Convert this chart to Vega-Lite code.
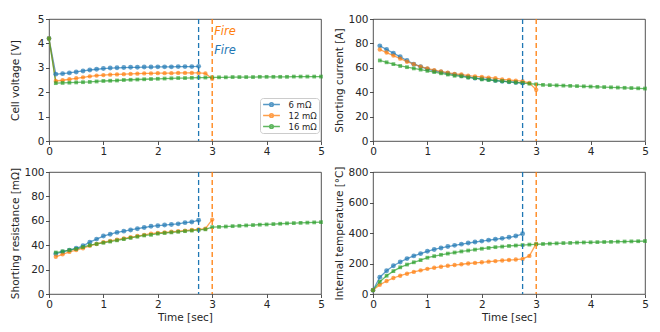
{
  "$schema": "https://vega.github.io/schema/vega-lite/v6.json",
  "background": "white",
  "padding": {"left": 9, "top": 13, "right": 5, "bottom": 5},
  "bounds": "flush",
  "columns": 2,
  "spacing": {"row": 31, "column": 52},
  "resolve": {"legend": {"color": "independent"}},
  "config": {
    "font": "DejaVu Sans",
    "view": {"stroke": "#262626", "strokeWidth": 0.8},
    "axis": {"grid": false, "domain": false, "labelOverlap": false, "labelFlush": false, "labelBound": false, "tickColor": "#262626", "tickSize": 3.5, "tickWidth": 0.8, "labelFontSize": 10.5, "labelColor": "#262626", "labelPadding": 1.5, "titleFontSize": 10.5, "titleFontWeight": "normal", "titleColor": "#262626"},
    "axisY": {"labelOverlap": false},
    "axisQuantitative": {"labelOverlap": false}
  },
  "datasets": {
    "fire": [{"t": 2.75, "s": "6 mΩ"}, {"t": 3, "s": "12 mΩ"}],
    "main": [
      {"t":0,"s":"6 mΩ","V":4.2,"I":null,"R":null,"T":25},
      {"t":0.125,"s":"6 mΩ","V":2.74,"I":78,"R":33,"T":110},
      {"t":0.25,"s":"6 mΩ","V":2.76,"I":75,"R":34.5,"T":152},
      {"t":0.375,"s":"6 mΩ","V":2.79,"I":72,"R":36,"T":185},
      {"t":0.5,"s":"6 mΩ","V":2.83,"I":69,"R":37.5,"T":210},
      {"t":0.625,"s":"6 mΩ","V":2.87,"I":66,"R":39.5,"T":232},
      {"t":0.75,"s":"6 mΩ","V":2.91,"I":63,"R":42.5,"T":250},
      {"t":0.875,"s":"6 mΩ","V":2.94,"I":61,"R":45,"T":265},
      {"t":1,"s":"6 mΩ","V":2.97,"I":59,"R":47.5,"T":280},
      {"t":1.125,"s":"6 mΩ","V":2.99,"I":57.5,"R":49,"T":292},
      {"t":1.25,"s":"6 mΩ","V":3.0,"I":56.5,"R":50.5,"T":302},
      {"t":1.375,"s":"6 mΩ","V":3.01,"I":55.5,"R":51.5,"T":311},
      {"t":1.5,"s":"6 mΩ","V":3.02,"I":54.5,"R":52.5,"T":319},
      {"t":1.625,"s":"6 mΩ","V":3.02,"I":53.5,"R":53.5,"T":327},
      {"t":1.75,"s":"6 mΩ","V":3.03,"I":52.5,"R":54.5,"T":334},
      {"t":1.875,"s":"6 mΩ","V":3.03,"I":51.5,"R":55.5,"T":341},
      {"t":2,"s":"6 mΩ","V":3.04,"I":51,"R":56,"T":347},
      {"t":2.125,"s":"6 mΩ","V":3.04,"I":50.5,"R":56.5,"T":353},
      {"t":2.25,"s":"6 mΩ","V":3.04,"I":49.5,"R":57,"T":359},
      {"t":2.375,"s":"6 mΩ","V":3.05,"I":49,"R":57.5,"T":365},
      {"t":2.5,"s":"6 mΩ","V":3.05,"I":48.5,"R":58.5,"T":372},
      {"t":2.625,"s":"6 mΩ","V":3.05,"I":48,"R":59,"T":380},
      {"t":2.75,"s":"6 mΩ","V":3.06,"I":47.5,"R":60.5,"T":395},
      {"t":0,"s":"12 mΩ","V":4.2,"I":null,"R":null,"T":25},
      {"t":0.125,"s":"12 mΩ","V":2.46,"I":75,"R":30.5,"T":60},
      {"t":0.25,"s":"12 mΩ","V":2.49,"I":72.5,"R":32.5,"T":85},
      {"t":0.375,"s":"12 mΩ","V":2.53,"I":70,"R":34.5,"T":105},
      {"t":0.5,"s":"12 mΩ","V":2.57,"I":67.5,"R":36,"T":120},
      {"t":0.625,"s":"12 mΩ","V":2.61,"I":65,"R":37.5,"T":133},
      {"t":0.75,"s":"12 mΩ","V":2.65,"I":63,"R":39.5,"T":145},
      {"t":0.875,"s":"12 mΩ","V":2.68,"I":61,"R":41,"T":155},
      {"t":1,"s":"12 mΩ","V":2.7,"I":59.5,"R":42.5,"T":165},
      {"t":1.125,"s":"12 mΩ","V":2.72,"I":58,"R":43.5,"T":172},
      {"t":1.25,"s":"12 mΩ","V":2.73,"I":57,"R":44.5,"T":179},
      {"t":1.375,"s":"12 mΩ","V":2.74,"I":56,"R":45.5,"T":185},
      {"t":1.5,"s":"12 mΩ","V":2.75,"I":55,"R":46.5,"T":190},
      {"t":1.625,"s":"12 mΩ","V":2.76,"I":54.5,"R":47.5,"T":195},
      {"t":1.75,"s":"12 mΩ","V":2.77,"I":53.5,"R":48.5,"T":200},
      {"t":1.875,"s":"12 mΩ","V":2.77,"I":53,"R":49.5,"T":204},
      {"t":2,"s":"12 mΩ","V":2.78,"I":52.5,"R":50,"T":208},
      {"t":2.125,"s":"12 mΩ","V":2.78,"I":52,"R":50.5,"T":212},
      {"t":2.25,"s":"12 mΩ","V":2.78,"I":51.5,"R":51,"T":216},
      {"t":2.375,"s":"12 mΩ","V":2.79,"I":50.5,"R":51.5,"T":220},
      {"t":2.5,"s":"12 mΩ","V":2.79,"I":50,"R":52,"T":223},
      {"t":2.625,"s":"12 mΩ","V":2.79,"I":49.5,"R":52.5,"T":226},
      {"t":2.75,"s":"12 mΩ","V":2.79,"I":49,"R":53,"T":230},
      {"t":2.875,"s":"12 mΩ","V":2.77,"I":47.5,"R":53.5,"T":250},
      {"t":3,"s":"12 mΩ","V":2.55,"I":42,"R":61,"T":330},
      {"t":0,"s":"16 mΩ","V":4.2,"I":null,"R":null,"T":25},
      {"t":0.125,"s":"16 mΩ","V":2.37,"I":66,"R":34,"T":80},
      {"t":0.25,"s":"16 mΩ","V":2.38,"I":64.5,"R":35,"T":120},
      {"t":0.375,"s":"16 mΩ","V":2.39,"I":63,"R":36,"T":150},
      {"t":0.5,"s":"16 mΩ","V":2.4,"I":61.5,"R":37,"T":175},
      {"t":0.625,"s":"16 mΩ","V":2.41,"I":60.5,"R":38.5,"T":193},
      {"t":0.75,"s":"16 mΩ","V":2.42,"I":59.5,"R":40,"T":208},
      {"t":0.875,"s":"16 mΩ","V":2.44,"I":58.5,"R":41,"T":222},
      {"t":1,"s":"16 mΩ","V":2.46,"I":57.5,"R":42,"T":238},
      {"t":1.125,"s":"16 mΩ","V":2.47,"I":56.5,"R":43,"T":248},
      {"t":1.25,"s":"16 mΩ","V":2.48,"I":55.5,"R":44,"T":257},
      {"t":1.375,"s":"16 mΩ","V":2.5,"I":54.5,"R":45,"T":265},
      {"t":1.5,"s":"16 mΩ","V":2.51,"I":53.5,"R":46,"T":272},
      {"t":1.625,"s":"16 mΩ","V":2.52,"I":53,"R":47,"T":279},
      {"t":1.75,"s":"16 mΩ","V":2.53,"I":52,"R":48,"T":285},
      {"t":1.875,"s":"16 mΩ","V":2.54,"I":51.5,"R":48.5,"T":291},
      {"t":2,"s":"16 mΩ","V":2.55,"I":50.5,"R":49.5,"T":297},
      {"t":2.125,"s":"16 mΩ","V":2.56,"I":50,"R":50,"T":302},
      {"t":2.25,"s":"16 mΩ","V":2.57,"I":49.5,"R":50.5,"T":307},
      {"t":2.375,"s":"16 mΩ","V":2.58,"I":49,"R":51,"T":311},
      {"t":2.5,"s":"16 mΩ","V":2.58,"I":48.5,"R":51.5,"T":315},
      {"t":2.625,"s":"16 mΩ","V":2.59,"I":48,"R":52,"T":318},
      {"t":2.75,"s":"16 mΩ","V":2.6,"I":47.5,"R":52.5,"T":321},
      {"t":2.875,"s":"16 mΩ","V":2.6,"I":47,"R":53,"T":324},
      {"t":3,"s":"16 mΩ","V":2.61,"I":46.5,"R":54.8,"T":326},
      {"t":3.125,"s":"16 mΩ","V":2.61,"I":46,"R":55,"T":328},
      {"t":3.25,"s":"16 mΩ","V":2.61,"I":45.8,"R":55.3,"T":330},
      {"t":3.375,"s":"16 mΩ","V":2.62,"I":45.6,"R":55.6,"T":332},
      {"t":3.5,"s":"16 mΩ","V":2.62,"I":45.4,"R":55.9,"T":334},
      {"t":3.625,"s":"16 mΩ","V":2.62,"I":45.2,"R":56.2,"T":335},
      {"t":3.75,"s":"16 mΩ","V":2.62,"I":45,"R":56.5,"T":337},
      {"t":3.875,"s":"16 mΩ","V":2.63,"I":44.8,"R":56.8,"T":338},
      {"t":4,"s":"16 mΩ","V":2.63,"I":44.6,"R":57,"T":339},
      {"t":4.125,"s":"16 mΩ","V":2.63,"I":44.4,"R":57.3,"T":340},
      {"t":4.25,"s":"16 mΩ","V":2.63,"I":44.2,"R":57.6,"T":341},
      {"t":4.375,"s":"16 mΩ","V":2.63,"I":44,"R":57.9,"T":342},
      {"t":4.5,"s":"16 mΩ","V":2.64,"I":43.8,"R":58.1,"T":343},
      {"t":4.625,"s":"16 mΩ","V":2.64,"I":43.6,"R":58.3,"T":344},
      {"t":4.75,"s":"16 mΩ","V":2.64,"I":43.4,"R":58.5,"T":345},
      {"t":4.875,"s":"16 mΩ","V":2.64,"I":43.2,"R":58.7,"T":346},
      {"t":5,"s":"16 mΩ","V":2.64,"I":43,"R":58.9,"T":347}
    ]
  },
  "data": {"name": "main"},
  "concat": [
    {
      "width": 272, "height": 122,
      "resolve": {"legend": {"color": "independent"}},
      "layer": [
        {"mark": {"type": "line", "strokeWidth": 1.3, "opacity": 0.7},
         "encoding": {
           "x": {"field": "t", "type": "quantitative", "scale": {"domain": [0, 5], "nice": false}, "axis": {"values": [0,1,2,3,4,5], "title": null, "labelOverlap": false, "labelFlush": false}},
           "y": {"field": "V", "type": "quantitative", "scale": {"domain": [0, 5], "nice": false}, "axis": {"values": [0,1,2,3,4,5], "labelOverlap": false, "labelBound": false, "title": "Cell voltage [V]", "titleX": -34, "titleBaseline": "middle", "titleAngle": 270}},
           "color": {"field": "s", "type": "nominal", "scale": {"domain": ["6 mΩ","12 mΩ","16 mΩ"], "range": ["#1f77b4","#ff7f0e","#2ca02c"]},
             "legend": {"orient": "none", "legendX": 211, "legendY": 79, "title": null, "fillColor": "white", "strokeColor": "#cccccc", "cornerRadius": 3, "padding": 1.5, "labelFontSize": 8.5, "labelColor": "#262626", "symbolSize": 64, "rowPadding": 1, "symbolOffset": 5, "labelOffset": 12,
               "symbolType": "M-2.1,0L2.1,0M-0.45,0A0.45,0.45 0 1,0 0.45,0A0.45,0.45 0 1,0 -0.45,0Z",
               "symbolStrokeWidth": 1.6, "symbolOpacity": 0.75}}}},
        {"mark": {"type": "point", "filled": true, "opacity": 0.7},
         "encoding": {
           "x": {"field": "t", "type": "quantitative", "axis": {"values": [0,1,2,3,4,5], "title": null, "labelOverlap": false, "labelFlush": false}},
           "y": {"field": "V", "type": "quantitative", "axis": {"values": [0,1,2,3,4,5], "labelOverlap": false, "labelBound": false, "title": "Cell voltage [V]", "titleX": -34, "titleBaseline": "middle", "titleAngle": 270}},
           "shape": {"field": "s", "type": "nominal", "scale": {"domain": ["6 mΩ","12 mΩ","16 mΩ"], "range": ["circle","circle","square"]}, "legend": null},
           "size": {"field": "s", "type": "nominal", "scale": {"domain": ["6 mΩ","12 mΩ","16 mΩ"], "range": [24, 14, 24]}, "legend": null},
           "color": {"field": "s", "type": "nominal", "legend": null}}},
        {"data": {"name": "fire"}, "mark": {"type": "rule", "strokeDash": [5, 3], "strokeWidth": 1.3},
         "encoding": {"x": {"field": "t", "type": "quantitative", "axis": {"values": [0,1,2,3,4,5], "title": null, "labelOverlap": false, "labelFlush": false}}, "color": {"field": "s", "type": "nominal", "legend": null}}},
        {"data": {"values": [{}]}, "mark": {"type": "text", "text": "Fire", "align": "left", "baseline": "middle", "dx": 2, "fontStyle": "italic", "fontSize": 11.5, "color": "#ff7f0e"},
         "encoding": {"x": {"datum": 3, "type": "quantitative", "axis": {"values": [0,1,2,3,4,5], "title": null, "labelOverlap": false, "labelFlush": false}}, "y": {"datum": 4.45, "type": "quantitative", "axis": {"values": [0,1,2,3,4,5], "labelOverlap": false, "labelBound": false, "title": "Cell voltage [V]", "titleX": -34, "titleBaseline": "middle", "titleAngle": 270}}}},
        {"data": {"values": [{}]}, "mark": {"type": "text", "text": "Fire", "align": "left", "baseline": "middle", "dx": 2, "fontStyle": "italic", "fontSize": 11.5, "color": "#1f77b4"},
         "encoding": {"x": {"datum": 3, "type": "quantitative", "axis": {"values": [0,1,2,3,4,5], "title": null, "labelOverlap": false, "labelFlush": false}}, "y": {"datum": 3.7, "type": "quantitative", "axis": {"values": [0,1,2,3,4,5], "labelOverlap": false, "labelBound": false, "title": "Cell voltage [V]", "titleX": -34, "titleBaseline": "middle", "titleAngle": 270}}}}
      ]
    },
    {
      "width": 272, "height": 122,
      "layer": [
        {"mark": {"type": "line", "strokeWidth": 1.3, "opacity": 0.7},
         "encoding": {
           "x": {"field": "t", "type": "quantitative", "scale": {"domain": [0, 5], "nice": false}, "axis": {"values": [0,1,2,3,4,5], "title": null, "labelOverlap": false, "labelFlush": false}},
           "y": {"field": "I", "type": "quantitative", "scale": {"domain": [0, 100], "nice": false}, "axis": {"values": [0,20,40,60,80,100], "labelOverlap": false, "labelBound": false, "title": "Shorting current [A]", "titleX": -34, "titleBaseline": "middle", "titleAngle": 270}},
           "color": {"field": "s", "type": "nominal", "legend": null}}},
        {"mark": {"type": "point", "filled": true, "opacity": 0.7},
         "encoding": {
           "x": {"field": "t", "type": "quantitative"},
           "y": {"field": "I", "type": "quantitative", "axis": {"values": [0,20,40,60,80,100], "labelOverlap": false, "labelBound": false, "title": "Shorting current [A]", "titleX": -34, "titleBaseline": "middle", "titleAngle": 270}},
           "shape": {"field": "s", "type": "nominal", "legend": null},
           "size": {"field": "s", "type": "nominal", "legend": null},
           "color": {"field": "s", "type": "nominal", "legend": null}}},
        {"data": {"name": "fire"}, "mark": {"type": "rule", "strokeDash": [5, 3], "strokeWidth": 1.3},
         "encoding": {"x": {"field": "t", "type": "quantitative"}, "color": {"field": "s", "type": "nominal", "legend": null}}}
      ]
    },
    {
      "width": 272, "height": 122,
      "layer": [
        {"mark": {"type": "line", "strokeWidth": 1.3, "opacity": 0.7},
         "encoding": {
           "x": {"field": "t", "type": "quantitative", "scale": {"domain": [0, 5], "nice": false}, "axis": {"values": [0,1,2,3,4,5], "labelOverlap": false, "labelFlush": false, "title": "Time [sec]", "titleY": 23, "titleBaseline": "middle"}},
           "y": {"field": "R", "type": "quantitative", "scale": {"domain": [0, 100], "nice": false}, "axis": {"values": [0,20,40,60,80,100], "labelOverlap": false, "labelBound": false, "title": "Shorting resistance [mΩ]", "titleX": -34, "titleBaseline": "middle", "titleAngle": 270}},
           "color": {"field": "s", "type": "nominal", "legend": null}}},
        {"mark": {"type": "point", "filled": true, "opacity": 0.7},
         "encoding": {
           "x": {"field": "t", "type": "quantitative"},
           "y": {"field": "R", "type": "quantitative", "axis": {"values": [0,20,40,60,80,100], "labelOverlap": false, "labelBound": false, "title": "Shorting resistance [mΩ]", "titleX": -34, "titleBaseline": "middle", "titleAngle": 270}},
           "shape": {"field": "s", "type": "nominal", "legend": null},
           "size": {"field": "s", "type": "nominal", "legend": null},
           "color": {"field": "s", "type": "nominal", "legend": null}}},
        {"data": {"name": "fire"}, "mark": {"type": "rule", "strokeDash": [5, 3], "strokeWidth": 1.3},
         "encoding": {"x": {"field": "t", "type": "quantitative"}, "color": {"field": "s", "type": "nominal", "legend": null}}}
      ]
    },
    {
      "width": 272, "height": 122,
      "layer": [
        {"mark": {"type": "line", "strokeWidth": 1.3, "opacity": 0.7},
         "encoding": {
           "x": {"field": "t", "type": "quantitative", "scale": {"domain": [0, 5], "nice": false}, "axis": {"values": [0,1,2,3,4,5], "labelOverlap": false, "labelFlush": false, "title": "Time [sec]", "titleY": 23, "titleBaseline": "middle"}},
           "y": {"field": "T", "type": "quantitative", "scale": {"domain": [0, 800], "nice": false}, "axis": {"values": [0,200,400,600,800], "labelOverlap": false, "labelBound": false, "title": "Internal temperature [°C]", "titleX": -34, "titleBaseline": "middle", "titleAngle": 270}},
           "color": {"field": "s", "type": "nominal", "legend": null}}},
        {"mark": {"type": "point", "filled": true, "opacity": 0.7},
         "encoding": {
           "x": {"field": "t", "type": "quantitative"},
           "y": {"field": "T", "type": "quantitative", "axis": {"values": [0,200,400,600,800], "labelOverlap": false, "labelBound": false, "title": "Internal temperature [°C]", "titleX": -34, "titleBaseline": "middle", "titleAngle": 270}},
           "shape": {"field": "s", "type": "nominal", "legend": null},
           "size": {"field": "s", "type": "nominal", "legend": null},
           "color": {"field": "s", "type": "nominal", "legend": null}}},
        {"data": {"name": "fire"}, "mark": {"type": "rule", "strokeDash": [5, 3], "strokeWidth": 1.3},
         "encoding": {"x": {"field": "t", "type": "quantitative"}, "color": {"field": "s", "type": "nominal", "legend": null}}}
      ]
    }
  ]
}
